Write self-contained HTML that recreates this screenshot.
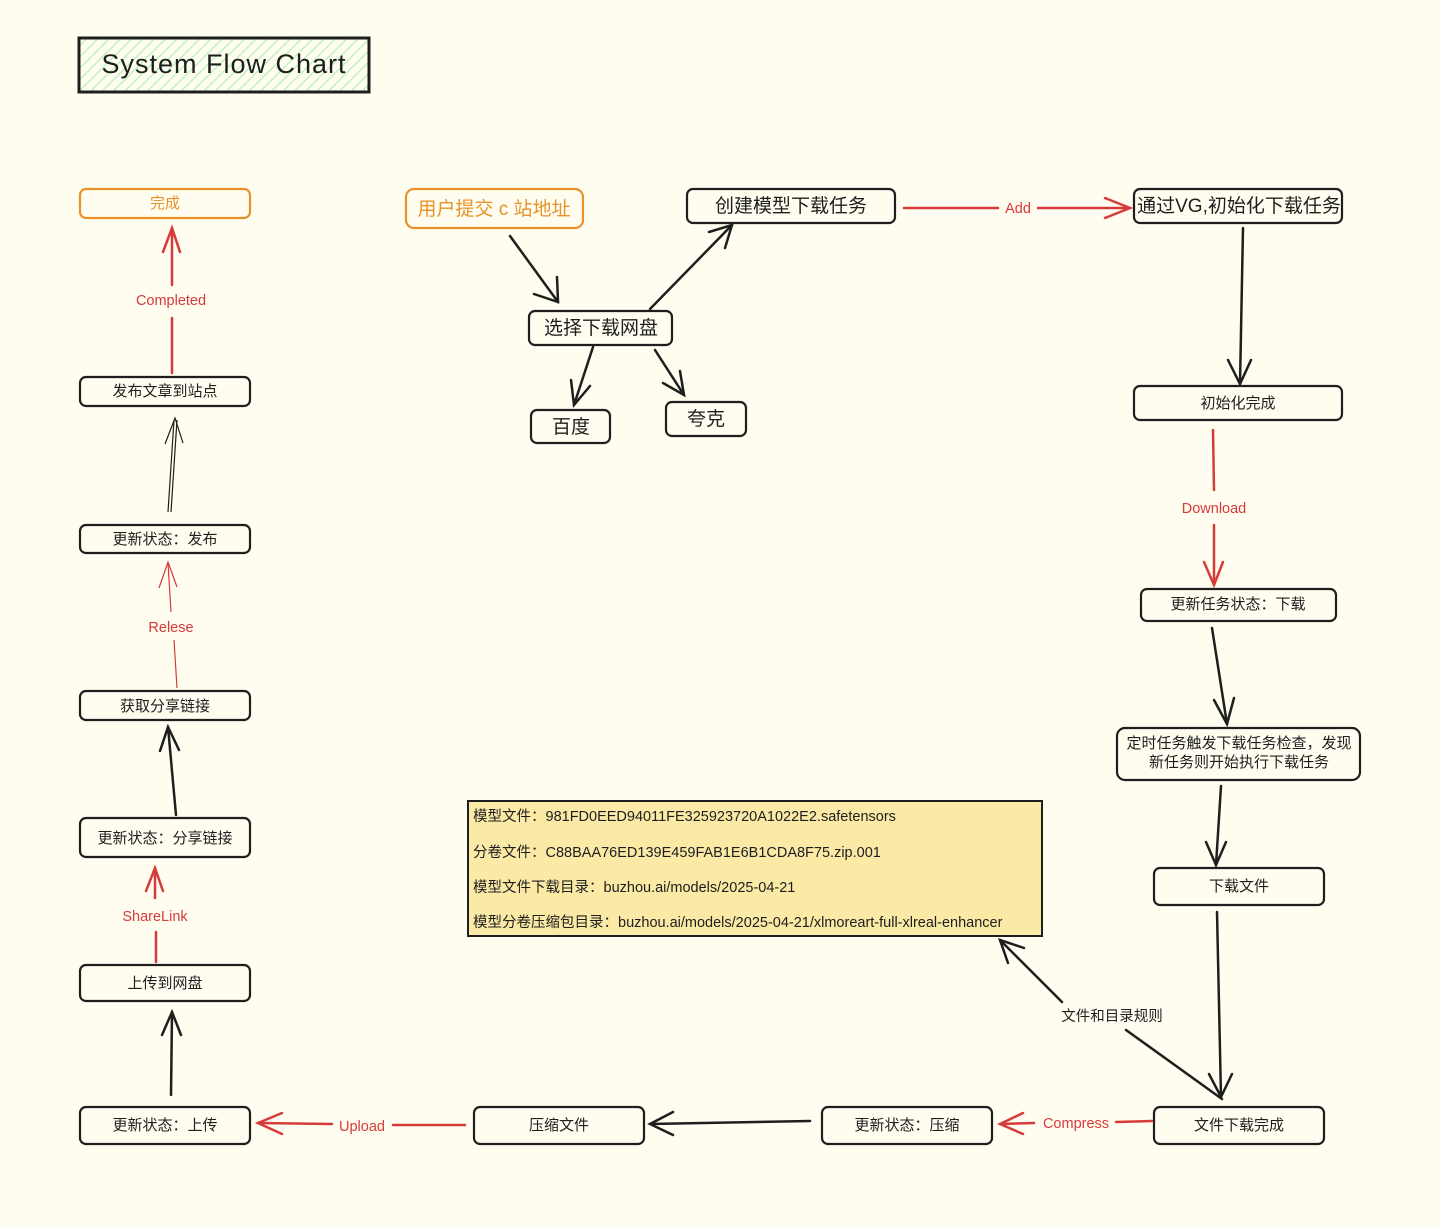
<!DOCTYPE html>
<html><head><meta charset="utf-8"><style>
html,body{margin:0;padding:0;background:#fffdef;}
svg{display:block}
text{font-family:"Liberation Sans","Noto Sans CJK SC",sans-serif;}
</style></head><body>
<svg width="1440" height="1226" viewBox="0 0 1440 1226" xmlns="http://www.w3.org/2000/svg">
<defs>
<pattern id="h" width="8" height="8" patternUnits="userSpaceOnUse" patternTransform="rotate(45)">
<rect width="8" height="8" fill="#fffdef"/><line x1="0" y1="0" x2="0" y2="8" stroke="#b2f2bb" stroke-width="2.5"/></pattern>
</defs>
<rect x="0" y="0" width="1440" height="1226" fill="#fffdef"/>
<rect x="79" y="38" width="290" height="54" fill="url(#h)" stroke="#1e1e1e" stroke-width="3"/>
<text x="224" y="73" font-size="27" text-anchor="middle" fill="#1e1e1e" letter-spacing="1">System Flow Chart</text>

<g fill="none" stroke="#1e1e1e" stroke-width="2.2">
<rect x="80" y="377" width="170" height="29" rx="6"/>
<rect x="80" y="525" width="170" height="28" rx="6"/>
<rect x="80" y="691" width="170" height="29" rx="6"/>
<rect x="80" y="818" width="170" height="39" rx="6"/>
<rect x="80" y="965" width="170" height="36" rx="6"/>
<rect x="80" y="1107" width="170" height="37" rx="6"/>
<rect x="474" y="1107" width="170" height="37" rx="6"/>
<rect x="822" y="1107" width="170" height="37" rx="6"/>
<rect x="1154" y="1107" width="170" height="37" rx="6"/>
<rect x="1154" y="868" width="170" height="37" rx="6"/>
<rect x="1117" y="728" width="243" height="52" rx="8"/>
<rect x="1141" y="589" width="195" height="32" rx="6"/>
<rect x="1134" y="386" width="208" height="34" rx="6"/>
<rect x="1134" y="189" width="208" height="34" rx="6"/>
<rect x="687" y="189" width="208" height="34" rx="6"/>
<rect x="529" y="311" width="143" height="34" rx="6"/>
<rect x="531" y="410" width="79" height="33" rx="6"/>
<rect x="666" y="402" width="80" height="34" rx="6"/>
</g>
<g fill="none" stroke="#e8922b" stroke-width="2.2">
<rect x="80" y="189" width="170" height="29" rx="6"/>
<rect x="406" y="189" width="177" height="39" rx="8"/>
</g>
<rect x="468" y="801" width="574" height="135" fill="#fbe9a6" stroke="#1e1e1e" stroke-width="2"/>

<g font-size="15" fill="#1e1e1e" text-anchor="middle">
<text x="165" y="396">发布文章到站点</text>
<text x="165" y="544">更新状态：发布</text>
<text x="165" y="711">获取分享链接</text>
<text x="165" y="843">更新状态：分享链接</text>
<text x="165" y="988">上传到网盘</text>
<text x="165" y="1130">更新状态：上传</text>
<text x="559" y="1130">压缩文件</text>
<text x="907" y="1130">更新状态：压缩</text>
<text x="1239" y="1130">文件下载完成</text>
<text x="1239" y="891">下载文件</text>
<text x="1239" y="748">定时任务触发下载任务检查，发现</text>
<text x="1239" y="767">新任务则开始执行下载任务</text>
<text x="1238" y="609">更新任务状态：下载</text>
<text x="1238" y="408">初始化完成</text>
</g>
<g font-size="19" fill="#1e1e1e" text-anchor="middle">
<text x="1239" y="212">通过VG,初始化下载任务</text>
<text x="791" y="212">创建模型下载任务</text>
<text x="601" y="334">选择下载网盘</text>
<text x="571" y="433">百度</text>
<text x="706" y="425">夸克</text>
</g>
<text x="165" y="208" font-size="15" fill="#e8922b" text-anchor="middle">完成</text>
<text x="494" y="215" font-size="19" fill="#e8922b" text-anchor="middle">用户提交 c 站地址</text>

<g font-size="14.5" fill="#1e1e1e">
<text x="473" y="821">模型文件：981FD0EED94011FE325923720A1022E2.safetensors</text>
<text x="473" y="857">分卷文件：C88BAA76ED139E459FAB1E6B1CDA8F75.zip.001</text>
<text x="473" y="892">模型文件下载目录：buzhou.ai/models/2025-04-21</text>
<text x="473" y="927">模型分卷压缩包目录：buzhou.ai/models/2025-04-21/xlmoreart-full-xlreal-enhancer</text>
</g>

<g fill="none" stroke="#1e1e1e" stroke-width="2.5" stroke-linecap="round">
<line x1="510" y1="236" x2="558" y2="302"/><polyline points="534,294 558,302 557,277"/>
<line x1="650" y1="309" x2="732" y2="225"/><polyline points="709,232 732,225 725,248"/>
<line x1="593" y1="347" x2="574" y2="405"/><polyline points="571,380 574,405 590,386"/>
<line x1="655" y1="350" x2="684" y2="395"/><polyline points="663,383 684,395 680,371"/>
<line x1="1243" y1="228" x2="1240" y2="384"/><polyline points="1228,360 1240,384 1251,360"/>
<line x1="1212" y1="628" x2="1227" y2="724"/><polyline points="1214,700 1227,724 1234,698"/>
<line x1="1221" y1="786" x2="1216" y2="865"/><polyline points="1206,842 1216,865 1226,842"/>
<line x1="1217" y1="912" x2="1221" y2="1097"/><polyline points="1209,1074 1221,1097 1232,1074"/>
<line x1="810" y1="1121" x2="650" y2="1124"/><polyline points="673,1112 650,1124 673,1135"/>
<line x1="171" y1="1095" x2="172" y2="1012"/><polyline points="162,1035 172,1012 181,1035"/>
<line x1="176" y1="815" x2="168" y2="727"/><polyline points="160,751 168,727 179,750"/>
<line x1="1222" y1="1099" x2="1126" y2="1030"/>
<line x1="1062" y1="1002" x2="1000" y2="940"/><polyline points="1008,963 1000,940 1024,948"/>
</g>
<g fill="none" stroke="#1e1e1e" stroke-width="1.2">
<line x1="168" y1="512" x2="174" y2="420"/><line x1="171" y1="512" x2="177" y2="420"/>
<polyline points="165,444 175,418 183,443"/>
</g>
<text x="1112" y="1021" font-size="14.5" fill="#1e1e1e" text-anchor="middle">文件和目录规则</text>

<g fill="none" stroke="#d63a3a" stroke-width="2.5" stroke-linecap="round">
<line x1="904" y1="208" x2="998" y2="208"/><line x1="1038" y1="208" x2="1130" y2="208"/><polyline points="1105,198 1130,208 1105,218"/>
<line x1="1213" y1="430" x2="1214" y2="490"/><line x1="1214" y1="525" x2="1214" y2="585"/><polyline points="1204,562 1214,585 1223,562"/>
<line x1="1152" y1="1121" x2="1116" y2="1122"/><line x1="1034" y1="1123" x2="1000" y2="1124"/><polyline points="1023,1113 1000,1124 1023,1134"/>
<line x1="465" y1="1125" x2="393" y2="1125"/><line x1="332" y1="1124" x2="258" y2="1123"/><polyline points="282,1113 258,1123 282,1134"/>
<line x1="156" y1="962" x2="156" y2="932"/><line x1="155" y1="898" x2="155" y2="868"/><polyline points="146,891 155,868 163,891"/>
<line x1="172" y1="373" x2="172" y2="318"/><line x1="172" y1="285" x2="172" y2="228"/><polyline points="163,252 172,228 180,252"/>
</g>
<g fill="none" stroke="#d63a3a" stroke-width="1.2">
<line x1="177" y1="688" x2="174" y2="640"/><line x1="171" y1="612" x2="168" y2="563"/><polyline points="159,588 168,562 177,587"/>
</g>
<g font-size="14.5" fill="#d63a3a" text-anchor="middle">
<text x="1018" y="213">Add</text>
<text x="1214" y="513">Download</text>
<text x="1076" y="1128">Compress</text>
<text x="362" y="1131">Upload</text>
<text x="155" y="921">ShareLink</text>
<text x="171" y="632">Relese</text>
<text x="171" y="305">Completed</text>
</g>
</svg>
</body></html>
